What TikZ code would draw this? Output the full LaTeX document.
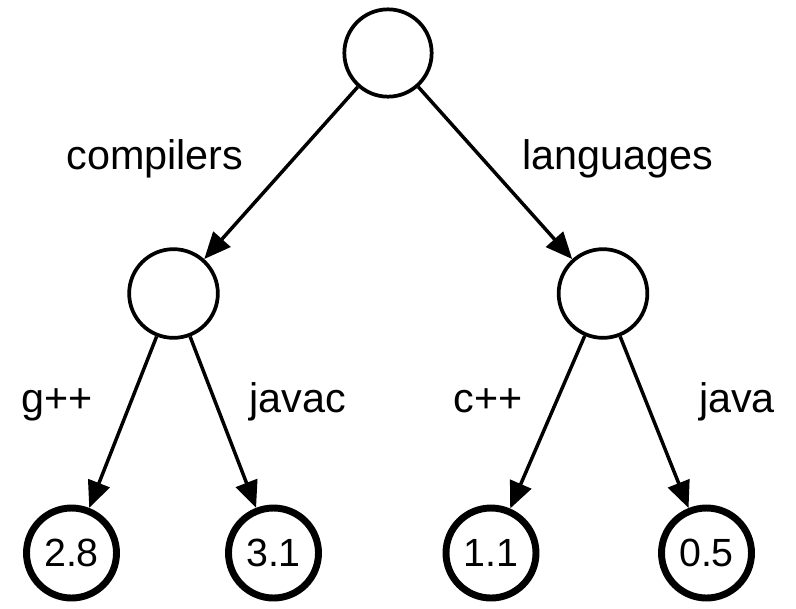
\documentclass[tikz,border=0pt]{standalone}
\usepackage{fontspec}
\setmainfont{Liberation Sans}
\usetikzlibrary{arrows.meta}
\begin{document}
\begin{tikzpicture}[x=0.75pt,y=-0.75pt,
  inner/.style={circle,draw,line width=2.8pt,minimum size=66.5pt,inner sep=0pt},
  leaf/.style={circle,draw,line width=5.2pt,minimum size=67.5pt,inner sep=0pt,font=\fontsize{29.5}{35}\selectfont},
  lbl/.style={anchor=base,inner sep=0pt,font=\fontsize{31}{37}\selectfont},
  edge/.style={line width=2.6pt,-{Triangle[length=20pt,width=17pt]}}]
\path[use as bounding box] (0,0) rectangle (796,608);
\node[inner,minimum size=65.5pt] (root) at (388,53) {};
\node[inner] (lm) at (173.5,293.5) {};
\node[inner] (rm) at (603,293.5) {};
\node[leaf] (a) at (71.5,553) {2.8};
\node[leaf] (b) at (273.5,553) {3.1};
\node[leaf] (c) at (491,553) {1.1};
\node[leaf] (d) at (706.5,553) {0.5};
\draw[edge] (root) -- (lm);
\draw[edge] (root) -- (rm);
\draw[edge] (lm) -- (a);
\draw[edge] (lm) -- (b);
\draw[edge] (rm) -- (c);
\draw[edge] (rm) -- (d);
\node[lbl] (l1) at (155,169) {compilers};
\node[lbl] (l2) at (617.5,169) {languages};
\node[lbl] (l3) at (57,412) {g++};
\node[lbl] (l4) at (297.5,412) {javac};
\node[lbl] (l5) at (488,412) {c++};
\node[lbl] (l6) at (737,412) {java};
\end{tikzpicture}
\end{document}
